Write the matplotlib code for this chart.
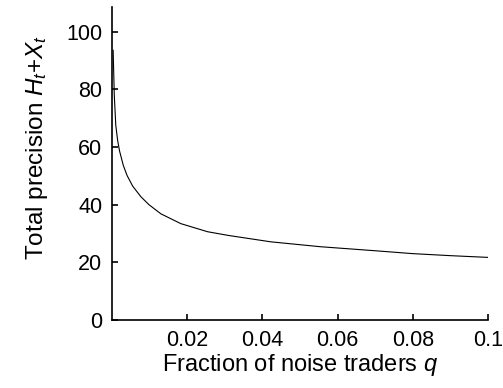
import matplotlib
matplotlib.use('Agg')
import matplotlib.pyplot as plt

# total precision vs. fraction of noise traders
q = [0.0003, 0.0006, 0.001, 0.0015, 0.002, 0.003, 0.004, 0.0055, 0.0077,
     0.0098, 0.013, 0.0183, 0.0254, 0.031, 0.0422, 0.0554, 0.07, 0.08,
     0.09, 0.1]
precision = [93.5, 78, 67.5, 62.2, 58.6, 53.6, 50.1, 46.4, 42.7,
             40.0, 36.8, 33.4, 30.6, 29.3, 27.1, 25.4, 24.0, 23.0,
             22.3, 21.7]

xticks = [0.02, 0.04, 0.06, 0.08, 0.1]
xtick_labels = ['0.02', '0.04', '0.06', '0.08', '0.1']
yticks = [0, 20, 40, 60, 80, 100]

plt.rcParams['font.family'] = ['Liberation Sans', 'DejaVu Sans']
plt.rcParams['mathtext.fontset'] = 'custom'
plt.rcParams['mathtext.it'] = 'Liberation Sans:italic'
plt.rcParams['mathtext.rm'] = 'Liberation Sans'

fig = plt.figure(figsize=(5.03, 3.88), dpi=100)
ax = fig.add_axes([0.2227, 0.1753, 0.7473, 0.8067])
ax.plot(q, precision, color='black', linewidth=0.8)

ax.set_xlim(0, 0.1)
ax.set_ylim(0, 108.5)
ax.set_xticks(xticks)
ax.set_xticklabels(xtick_labels)
ax.set_yticks(yticks)

for side in ('top', 'right'):
    ax.spines[side].set_visible(False)
for side in ('left', 'bottom'):
    ax.spines[side].set_linewidth(1.2)

ax.tick_params(direction='in', length=4, width=1.2, labelsize=15.5, pad=7)
ax.set_xlabel('Fraction of noise traders $q$', fontsize=17, labelpad=1)
ax.set_ylabel('Total precision $H_t$+$X_t$', fontsize=17.5)
ax.yaxis.set_label_coords(-0.165, 0.55)

fig.savefig('out.png', dpi=100, facecolor='white')
